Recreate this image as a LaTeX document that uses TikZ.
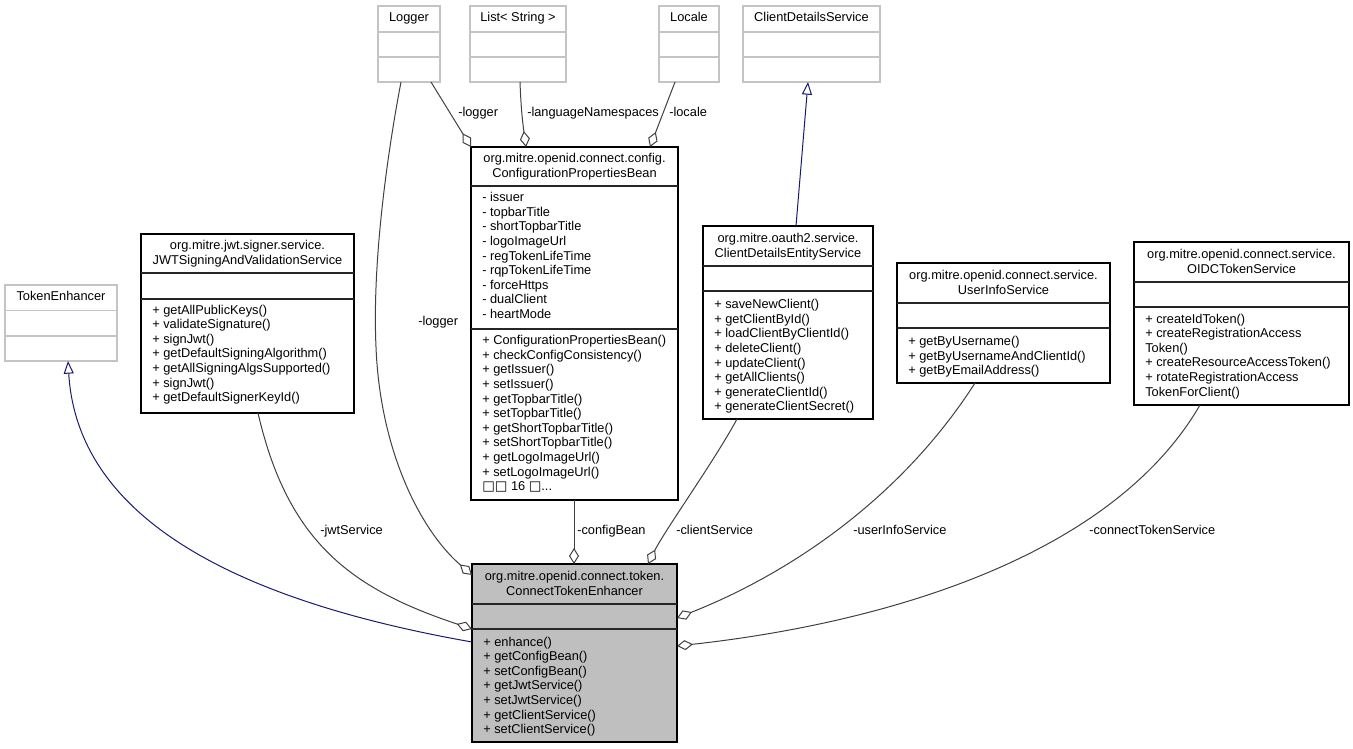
\documentclass[tikz,border=0pt]{standalone}
\usepackage{fontspec}
\setmainfont{Liberation Sans}
\newfontfamily\dejavu{DejaVu Sans}
\usetikzlibrary{arrows.meta,fit}
\definecolor{edgegray}{HTML}{404040}
\definecolor{navyline}{HTML}{191970}
\definecolor{boxgray}{HTML}{BFBFBF}
\definecolor{extgray}{HTML}{C4C4C4}
\newcommand\memberlines[4]{\foreach \t [count=\i from 0] in {#4} {\node[txt] (#1\i) at (#2,{#3+14.6*\i}) {\t};}}
\newcommand\clsdiv[3]{\draw[#3] (#1.west |- 0,#2) -- (#1.east |- 0,#2);}
\begin{document}
\begin{tikzpicture}[x=0.75pt,y=-0.75pt,
  umlfont/.style={font=\fontsize{9.6}{11}\selectfont},
  txt/.style={umlfont, inner sep=0, anchor=base west},
  ttl/.style={umlfont, inner sep=0, anchor=base},
  lbl/.style={umlfont, inner sep=0, anchor=base west},
  clsbox/.style={draw=black, line width=0.9pt, inner sep=0, outer sep=0, fill=white},
  extbox/.style={draw=extgray, line width=0.9pt, inner sep=0, outer sep=0, fill=white},
  clsline/.style={draw=black!85, line width=1.1pt},
  extline/.style={draw=extgray, line width=0.9pt},
  agg/.style={draw=edgegray, line width=0.75pt, -{Diamond[open, length=12pt, width=7.5pt]}},
  inh/.style={draw=navyline, line width=0.75pt, -{Triangle[open, length=9.5pt, width=7.5pt]}}
]
\useasboundingbox (0,0) rectangle (1353,749);

% ---- external (gray) classes
\node[extbox, fit={(378,6) (440,82)}] (logger) {};
\node[extbox, fit={(470,6) (566,82)}] (liststr) {};
\node[extbox, fit={(659,6) (719,82)}] (locale) {};
\node[extbox, fit={(743,6) (880,82)}] (cds) {};
\node[extbox, fit={(5,285) (117,361)}] (tokenenh) {};
\foreach \n in {logger,liststr,locale,cds} {\clsdiv{\n}{32}{extline}\clsdiv{\n}{57}{extline}}
\clsdiv{tokenenh}{310.5}{extline}\clsdiv{tokenenh}{336}{extline}
\node[ttl] (loggert) at (409,21.5) {Logger};
\node[ttl] (liststrt) at (518,21.5) {List< String >};
\node[ttl] (localet) at (689,21.5) {Locale};
\node[ttl] (cdst) at (811.5,21.5) {ClientDetailsService};
\node[ttl] (tokenenht) at (61,300) {TokenEnhancer};

% ---- documented classes
\node[clsbox, fit={(141,234) (354,413)}] (jwts) {};
\node[clsbox, fit={(471,147) (678,500)}] (cpb) {};
\node[clsbox, fit={(703,226) (873,419)}] (cdes) {};
\node[clsbox, fit={(897,263) (1110,383)}] (uis) {};
\node[clsbox, fit={(1134,242) (1349,405)}] (oidc) {};
\node[clsbox, fill=boxgray, fit={(472,564) (677,742)}] (cte) {};

\clsdiv{jwts}{273}{clsline}\clsdiv{jwts}{299}{clsline}
\clsdiv{cpb}{186}{clsline}\clsdiv{cpb}{329}{clsline}
\clsdiv{cdes}{266}{clsline}\clsdiv{cdes}{291}{clsline}
\clsdiv{uis}{303}{clsline}\clsdiv{uis}{328}{clsline}
\clsdiv{oidc}{282}{clsline}\clsdiv{oidc}{307}{clsline}
\clsdiv{cte}{604}{clsline}\clsdiv{cte}{629}{clsline}

% titles
\node[ttl] (jwtst1) at (247.5,249.5) {org.mitre.jwt.signer.service.};
\node[ttl] (jwtst2) at (247.5,264) {JWTSigningAndValidationService};
\node[ttl] (cpbt1) at (574.5,162.9) {org.mitre.openid.connect.config.};
\node[ttl] (cpbt2) at (574.5,177.5) {ConfigurationPropertiesBean};
\node[ttl] (cdest1) at (788,242.4) {org.mitre.oauth2.service.};
\node[ttl] (cdest2) at (788,257) {ClientDetailsEntityService};
\node[ttl] (uist1) at (1003.5,279.4) {org.mitre.openid.connect.service.};
\node[ttl] (uist2) at (1003.5,294) {UserInfoService};
\node[ttl] (oidct1) at (1241.5,258.4) {org.mitre.openid.connect.service.};
\node[ttl] (oidct2) at (1241.5,273) {OIDCTokenService};
\node[ttl] (ctet1) at (574.5,580.4) {org.mitre.openid.connect.token.};
\node[ttl] (ctet2) at (574.5,595) {ConnectTokenEnhancer};

% members
\memberlines{jwtsm}{152}{314}{+ getAllPublicKeys(), + validateSignature(), + signJwt(), + getDefaultSigningAlgorithm(), + getAllSigningAlgsSupported(), + signJwt(), + getDefaultSignerKeyId()}
\memberlines{cpba}{482}{201.7}{- issuer, - topbarTitle, - shortTopbarTitle, - logoImageUrl, - regTokenLifeTime, - rqpTokenLifeTime, - forceHttps, - dualClient, - heartMode}
\memberlines{cpbm}{482}{344.7}{+ ConfigurationPropertiesBean(), + checkConfigConsistency(), + getIssuer(), + setIssuer(), + getTopbarTitle(), + setTopbarTitle(), + getShortTopbarTitle(), + setShortTopbarTitle(), + getLogoImageUrl(), + setLogoImageUrl()}
\node[txt] (cpbmore) at (482,490.7) {{\dejavu\fontsize{10}{11}\selectfont □□} 16 {\dejavu\fontsize{10}{11}\selectfont □}...};
\memberlines{cdesm}{714}{308.7}{+ saveNewClient(), + getClientById(), + loadClientByClientId(), + deleteClient(), + updateClient(), + getAllClients(), + generateClientId(), + generateClientSecret()}
\memberlines{uism}{908}{345.4}{+ getByUsername(), + getByUsernameAndClientId(), + getByEmailAddress()}
\memberlines{oidcm}{1145}{323}{+ createIdToken(), + createRegistrationAccess, Token(), + createResourceAccessToken(), + rotateRegistrationAccess, TokenForClient()}
\memberlines{ctem}{483}{646}{+ enhance(), + getConfigBean(), + setConfigBean(), + getJwtService(), + setJwtService(), + getClientService(), + setClientService()}

% ---- connectors
\draw[inh] (cte.west |- 0,642) .. controls (262,605) and (78,530) .. (68,0 |- tokenenh.south);
\draw[inh] (796,0 |- cdes.north) -- (808,0 |- cds.south);
\draw[agg] (401,0 |- logger.south) .. controls (388,150) and (372,260) .. (376,347) .. controls (380,450) and (420,530) .. (cte.west |- 0,575);
\draw[agg] (431,0 |- logger.south) -- (cpb.north west);
\draw[agg] (520,0 |- liststr.south) .. controls (521,110) and (523,125) .. (526,0 |- cpb.north);
\draw[agg] (675,0 |- locale.south) -- (650,0 |- cpb.north);
\draw[agg] (258,0 |- jwts.south) .. controls (288,543) and (352,589) .. (cte.west |- 0,629);
\draw[agg] (574,0 |- cpb.south) -- (574,0 |- cte.north);
\draw[agg] (737,0 |- cdes.south) .. controls (715,460) and (665,530) .. (648,0 |- cte.north);
\draw[agg] (975,0 |- uis.south) .. controls (900,500) and (788,574) .. (cte.east |- 0,618);
\draw[agg] (1200,0 |- oidc.south) .. controls (1110,560) and (877,624) .. (cte.east |- 0,646);

% ---- connector labels
\node[lbl] (lloggerlong) at (418,325.7) {-logger};
\node[lbl] (lloggershort) at (458,116.7) {-logger};
\node[lbl] (llang) at (527,116.7) {-languageNamespaces};
\node[lbl] (llocale) at (669,116.7) {-locale};
\node[lbl] (ljwt) at (320,534.7) {-jwtService};
\node[lbl] (lconfig) at (577,534.7) {-configBean};
\node[lbl] (lclient) at (676,534.7) {-clientService};
\node[lbl] (luser) at (853,534.7) {-userInfoService};
\node[lbl] (lconnect) at (1089,534.7) {-connectTokenService};
\end{tikzpicture}
\end{document}
